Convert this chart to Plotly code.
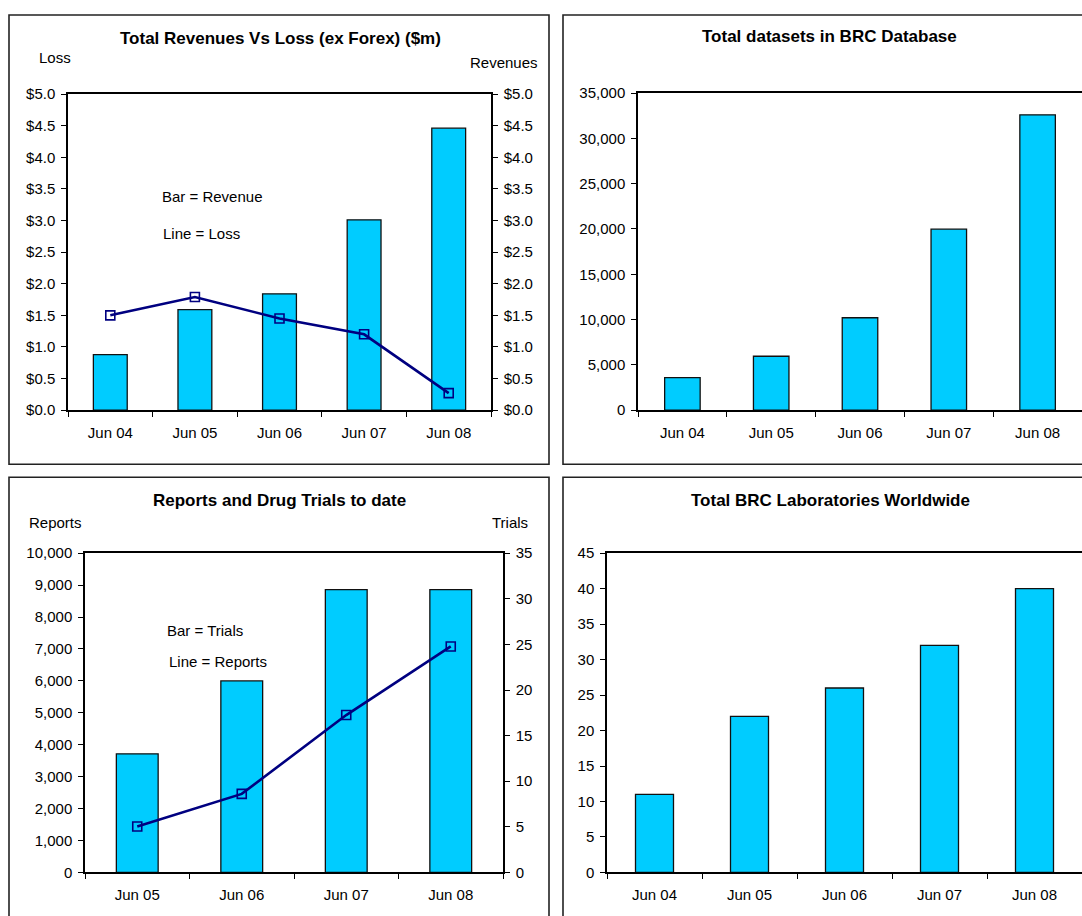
import plotly.graph_objects as go

# ---------------- data ----------------
months_a = ["Jun 04", "Jun 05", "Jun 06", "Jun 07", "Jun 08"]
revenue = [0.88, 1.59, 1.84, 3.01, 4.46]
loss = [1.50, 1.79, 1.45, 1.20, 0.27]

datasets = [3600, 5950, 10200, 19980, 32600]

months_b = ["Jun 05", "Jun 06", "Jun 07", "Jun 08"]
trials = [13, 21, 31, 31]
reports = [1440, 2460, 4930, 7080]

labs = [11, 22, 26, 32, 40]

W, H = 1082, 916
FONT = "Liberation Sans, Arial, sans-serif"
BAR = "#00CCFF"
NAVY = "#000080"

# observed viewer mapping: shown_y = VS * layout_y + VOFF
VS, VOFF = 0.981, 8.0


def px(x):
    return x / W


def py(y):
    return 1 - ((y - VOFF) / VS) / H


fig = go.Figure()

bar_style = dict(marker=dict(color=BAR, line=dict(color="#111111", width=1.3)))
line_style = dict(mode="lines+markers",
                  line=dict(color=NAVY, width=2.6),
                  marker=dict(symbol="square-open", size=9, color=NAVY,
                              line=dict(color=NAVY, width=1.6)))

# chart 1
fig.add_trace(go.Bar(x=months_a, y=revenue, xaxis="x", yaxis="y", **bar_style))
fig.add_trace(go.Scatter(x=months_a, y=loss, xaxis="x", yaxis="y2", **line_style))
# chart 2
fig.add_trace(go.Bar(x=months_a, y=datasets, xaxis="x2", yaxis="y3", **bar_style))
# chart 3
fig.add_trace(go.Bar(x=months_b, y=trials, xaxis="x3", yaxis="y4", **bar_style))
fig.add_trace(go.Scatter(x=months_b, y=reports, xaxis="x3", yaxis="y5", **line_style))
# chart 4
fig.add_trace(go.Bar(x=months_a, y=labs, xaxis="x4", yaxis="y6", **bar_style))

tickfont = dict(family=FONT, size=15, color="#000000")


def xax(x0, x1, anchor):
    return dict(domain=[px(x0), px(x1)], anchor=anchor, type="category",
                showline=True, linecolor="#000000", linewidth=1.5, mirror=True,
                ticks="outside", tickson="boundaries", ticklen=5, tickwidth=1,
                tickcolor="#000000", showgrid=False, zeroline=False,
                tickfont=tickfont, ticklabelstandoff=8, fixedrange=True)


def yax(y0, y1, anchor, rng, dtick, side="left", fmt=None, prefix=None, overlaying=None):
    d = dict(domain=[py(y1), py(y0)], anchor=anchor, range=rng, dtick=dtick,
             tick0=0, side=side, showline=True, linecolor="#000000", linewidth=1.5,
             ticks="outside", ticklen=5, tickwidth=1, tickcolor="#000000",
             showgrid=False, zeroline=False, tickfont=tickfont,
             ticklabelstandoff=3, fixedrange=True)
    if fmt:
        d["tickformat"] = fmt
    if prefix:
        d["tickprefix"] = prefix
    if overlaying:
        d["overlaying"] = overlaying
    return d


layout = dict(
    width=W, height=H, autosize=False,
    margin=dict(l=0, r=0, t=0, b=0),
    paper_bgcolor="white", plot_bgcolor="white",
    showlegend=False, bargap=0.6,
    font=dict(family=FONT, size=15, color="#000000"),
    xaxis=xax(68, 491, "y"),
    yaxis=yax(93, 409, "x", [0, 5], 0.5, side="right", fmt=".1f", prefix="$"),
    yaxis2=yax(93, 409, "x", [0, 5], 0.5, side="left", fmt=".1f", prefix="$", overlaying="y"),
    xaxis2=xax(638, 1082, "y3"),
    yaxis3=yax(92, 409, "x2", [0, 35000], 5000, fmt=","),
    xaxis3=xax(85, 503, "y4"),
    yaxis4=yax(552, 871, "x3", [0, 35], 5, side="right"),
    yaxis5=yax(552, 871, "x3", [0, 10000], 1000, side="left", fmt=",", overlaying="y4"),
    xaxis4=xax(607, 1082, "y6"),
    yaxis6=yax(552, 871, "x4", [0, 45], 5),
)
fig.update_layout(**layout)

# chart frames
frames = [(9, 14, 549, 463), (563, 14, 1096, 463), (9, 476, 549, 950), (563, 476, 1096, 950)]
for (x0, y0, x1, y1) in frames:
    fig.add_shape(type="rect", xref="paper", yref="paper",
                  x0=px(x0), x1=px(x1), y0=py(y1), y1=py(y0),
                  line=dict(color="#222222", width=1.6), fillcolor="rgba(0,0,0,0)",
                  layer="above")


def note(text, x, y, size=15, bold=False, xanchor="center"):
    fig.add_annotation(text=f"<b>{text}</b>" if bold else text,
                       x=px(x), y=py(y), xref="paper", yref="paper",
                       xanchor=xanchor, yanchor="middle", showarrow=False,
                       font=dict(family=FONT, size=size, color="#000000"))


note("Total Revenues Vs Loss (ex Forex) ($m)", 280, 37, size=17, bold=True)
note("Loss", 37, 56, xanchor="left")
note("Revenues", 468, 61, xanchor="left")
note("Bar = Revenue", 160, 195, xanchor="left")
note("Line = Loss", 161, 232, xanchor="left")

note("Total datasets in BRC Database", 829, 35, size=17, bold=True)

note("Reports and Drug Trials to date", 279, 499, size=17, bold=True)
note("Reports", 27, 521, xanchor="left")
note("Trials", 490, 521, xanchor="left")
note("Bar = Trials", 165, 629, xanchor="left")
note("Line = Reports", 167, 660, xanchor="left")

note("Total BRC Laboratories Worldwide", 830, 499, size=17, bold=True)

fig.write_html("out.html")
